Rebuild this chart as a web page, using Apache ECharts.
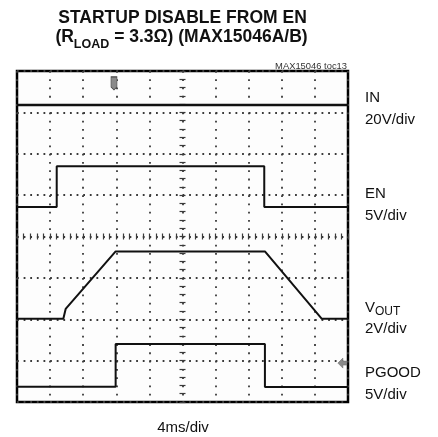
<!DOCTYPE html>
<html><head><meta charset="utf-8">
<script src="https://cdn.jsdelivr.net/npm/echarts@6/dist/echarts.min.js"></script>
<style>html,body{margin:0;padding:0;background:#fff}#c{width:438px;height:437px}</style>
</head><body><div id="c"></div>
<script>
// ---- text ----
const titleLine1 = 'STARTUP DISABLE FROM EN';
const titleLine2Parts = ['(R', 'LOAD', ' = 3.3\u03A9) (MAX15046A/B)'];
const figureTag = 'MAX15046 toc13';
const channelNames = ['IN', 'EN', 'V', 'PGOOD'];
const voutSub = 'OUT';
const channelScales = ['20V/div', '5V/div', '2V/div', '5V/div'];
const timeScale = '4ms/div';

// ---- data (screen divisions: x 0..10, y 0..8 from bottom) ----
const inX = [0, 10];
const inY = [7.18, 7.18];
const enX = [0, 1.20, 1.20, 7.47, 7.47, 10];
const enY = [4.71, 4.71, 5.70, 5.70, 4.71, 4.71];
const voutX = [0, 1.40, 1.47, 2.98, 7.49, 9.21, 10];
const voutY = [2.01, 2.01, 2.25, 3.64, 3.64, 2.01, 2.01];
const pgoodX = [0, 2.98, 2.98, 7.49, 7.49, 10];
const pgoodY = [0.37, 0.37, 1.40, 1.40, 0.36, 0.36];
const triggerMarker = [2.93, 7.70];
const levelMarker = [9.83, 0.94];

const FF = '"Liberation Sans", Arial, Helvetica, sans-serif';
const ctx = document.createElement('canvas').getContext('2d');
function tw(t, font){ ctx.font = font; return ctx.measureText(t).width; }

function zip(xs, ys){ return xs.map((x,i)=>[x, ys[i]]); }

function txt(text, x, y, size, opts){
  opts = opts || {};
  const font = (opts.bold ? 'bold ' : '') + size + 'px ' + FF;
  return {type:'text', x:x, y:y, silent:true, style:{text:text, font:font, fill: opts.fill || '#111',
    align: opts.align || 'left', verticalAlign:'middle', textAlign: opts.align || 'left', textVerticalAlign:'middle'}};
}

const graphics = [];
graphics.push(txt(titleLine1, 182.5, 18.5, 17.5, {bold:true, align:'center'}));
(function(){
  const fMain = 'bold 17.5px ' + FF, fSub = 'bold 12.5px ' + FF;
  const wA = tw(titleLine2Parts[0], fMain), wB = tw(titleLine2Parts[1], fSub), wC = tw(titleLine2Parts[2], fMain);
  const left = 181.5 - (wA + wB + wC) / 2;
  graphics.push(txt(titleLine2Parts[0], left, 37.5, 17.5, {bold:true}));
  graphics.push(txt(titleLine2Parts[1], left + wA, 45, 12.5, {bold:true}));
  graphics.push(txt(titleLine2Parts[2], left + wA + wB, 37.5, 17.5, {bold:true}));
})();
graphics.push(txt(figureTag, 347, 66, 9.4, {align:'right', fill:'#333'}));

const LX = 365;
graphics.push(txt(channelNames[0], LX, 97.5, 15));
graphics.push(txt(channelScales[0], LX, 119.5, 15));
graphics.push(txt(channelNames[1], LX, 194, 15));
graphics.push(txt(channelScales[1], LX, 216, 15));
graphics.push(txt(channelNames[2], LX, 307.5, 15));
graphics.push(txt(voutSub, LX + tw(channelNames[2], '15px ' + FF), 311.5, 12));
graphics.push(txt(channelScales[2], LX, 328.5, 15));
graphics.push(txt(channelNames[3], LX, 372.5, 15));
graphics.push(txt(channelScales[3], LX, 395, 15));
graphics.push(txt(timeScale, 183, 427.5, 15, {align:'center'}));

const GRID = {left:17, top:71, width:331, height:331};
const dotCol = '#3a3a3a';

function trace(name, data, w){
  return {name:name, type:'line', data:data, xAxisIndex:0, yAxisIndex:0, showSymbol:false, symbol:'none',
    lineStyle:{color:'#111', width:w}, z:5, animation:false, silent:true};
}

const series = [
  trace('IN', zip(inX, inY), 2.4),
  trace('EN', zip(enX, enY), 2),
  trace('VOUT', zip(voutX, voutY), 2),
  trace('PGOOD', zip(pgoodX, pgoodY), 2),
];
series[0].markPoint = {silent:true, animation:false, label:{show:false}, data:[
  {coord: triggerMarker, symbol:'path://M0,0 L6,0 L6,10 L3,13 L0,10 Z', symbolSize:[6,13],
   itemStyle:{color:'#8a8a8a', borderColor:'#444', borderWidth:0.8}}
]};
series[3].markPoint = {silent:true, animation:false, label:{show:false}, data:[
  {coord: levelMarker, symbol:'path://M0,5 L5,0 L5,3 L9,3 L9,7 L5,7 L5,10 Z', symbolSize:[9,10],
   itemStyle:{color:'#8a8a8a', borderColor:'#666', borderWidth:0.5}}
]};

const chart = echarts.init(document.getElementById('c'), null, {renderer:'canvas'});
chart.setOption({
  animation:false,
  backgroundColor:'#ffffff',
  grid: Object.assign({show:true, borderColor:'#000', borderWidth:2.5, backgroundColor:'#fdfdfd', containLabel:false}, GRID),
  xAxis:[
    {type:'value', min:0, max:10, interval:1, position:'top',
     axisLine:{show:false}, axisTick:{show:false}, axisLabel:{show:false},
     splitLine:{show:true, lineStyle:{color:dotCol, width:1.8, type:[1.8, 6.475], dashOffset:0}}},
    {type:'value', min:0, max:10, interval:0.2, position:'bottom', offset:-162.5,
     axisLine:{show:false}, axisLabel:{show:false}, splitLine:{show:false},
     axisTick:{show:true, inside:true, length:6, lineStyle:{color:dotCol, width:1.2}}}
  ],
  yAxis:[
    {type:'value', min:0, max:8, interval:1, position:'right',
     axisLine:{show:false}, axisTick:{show:false}, axisLabel:{show:false},
     splitLine:{show:true, lineStyle:{color:dotCol, width:1.8, type:[1.8, 4.82], dashOffset:0}}},
    {type:'value', min:0, max:8, interval:0.2, position:'left', offset:-162.5,
     axisLine:{show:false}, axisLabel:{show:false}, splitLine:{show:false},
     axisTick:{show:true, inside:true, length:6, lineStyle:{color:dotCol, width:1.2}}}
  ],
  series: series,
  graphic: graphics
});
</script>
</body></html>
